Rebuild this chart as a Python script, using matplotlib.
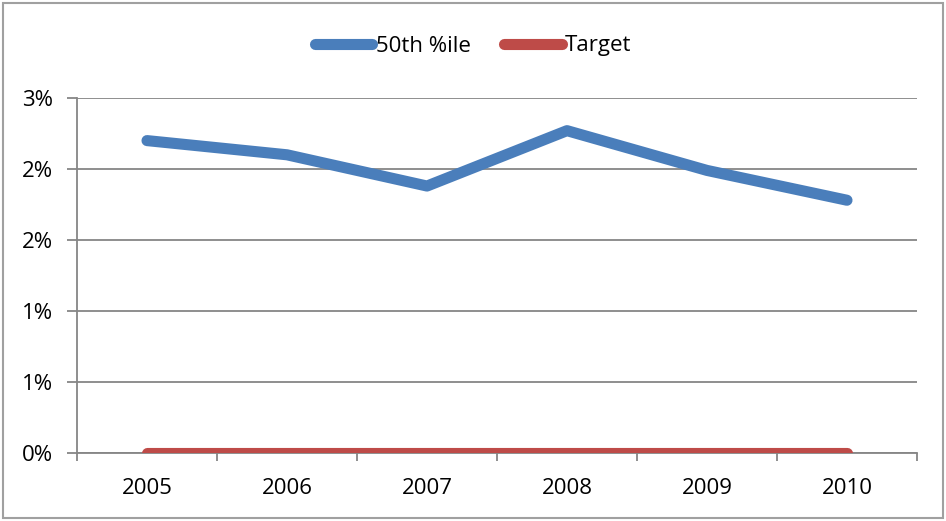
import math

import matplotlib
matplotlib.use("Agg")
import matplotlib.pyplot as plt
from matplotlib.ticker import FuncFormatter, FixedLocator
from matplotlib.patches import Rectangle

plt.rcParams["font.family"] = ["Open Sans", "DejaVu Sans"]

years = ["2005", "2006", "2007", "2008", "2009", "2010"]
pct50 = [0.0220, 0.0210, 0.0188, 0.0227, 0.0199, 0.0178]
target = [0, 0, 0, 0, 0, 0]

BLUE = "#4a7ebb"
RED = "#be4b48"
GRID = "#868686"


def excel_pct(v, pos):
    # Excel-style rounding: half up, so 0.5% -> 1%, 2.5% -> 3%
    return f"{math.floor(v * 100 + 0.5 + 1e-9):.0f}%"


fig = plt.figure(figsize=(9.46, 5.21), dpi=100)
ax = fig.add_axes([77 / 946, 1 - 453 / 521, 840 / 946, 355 / 521])

x = range(len(years))
ax.plot(x, pct50, color=BLUE, lw=8, solid_capstyle="round",
        solid_joinstyle="round", label="50th %ile", zorder=3)
ax.plot(x, target, color=RED, lw=8, solid_capstyle="round",
        label="Target", zorder=3)

ax.set_xlim(-0.5, len(years) - 0.5)
ax.set_ylim(0, 0.025)
ax.set_yticks([0, 0.005, 0.01, 0.015, 0.02, 0.025])
ax.yaxis.set_major_formatter(FuncFormatter(excel_pct))
ax.grid(axis="y", color=GRID, lw=1.3)
ax.set_axisbelow(True)

ax.set_xticks(list(x))
ax.set_xticklabels(years)
ax.xaxis.set_minor_locator(FixedLocator([i - 0.5 for i in range(len(years) + 1)]))
ax.tick_params(axis="x", which="major", length=0, pad=18, labelsize=16)
ax.tick_params(axis="x", which="minor", length=6, width=1.3, color=GRID)
ax.tick_params(axis="y", length=7, width=1.3, color=GRID, pad=10, labelsize=16)

for s in ["top", "right"]:
    ax.spines[s].set_visible(False)
for s in ["left", "bottom"]:
    ax.spines[s].set_color(GRID)
    ax.spines[s].set_linewidth(1.3)

fig.legend(loc="center", bbox_to_anchor=(0.5, 1 - 46 / 521), ncol=2,
           frameon=False, fontsize=16, handlelength=2.6, handletextpad=0.15,
           columnspacing=1.5)

fig.patches.append(Rectangle((3 / 946, 3 / 521), 940 / 946, 515 / 521,
                             transform=fig.transFigure, fill=False,
                             edgecolor="#a0a0a0", lw=1.5))

fig.savefig("out.png", dpi=100)
